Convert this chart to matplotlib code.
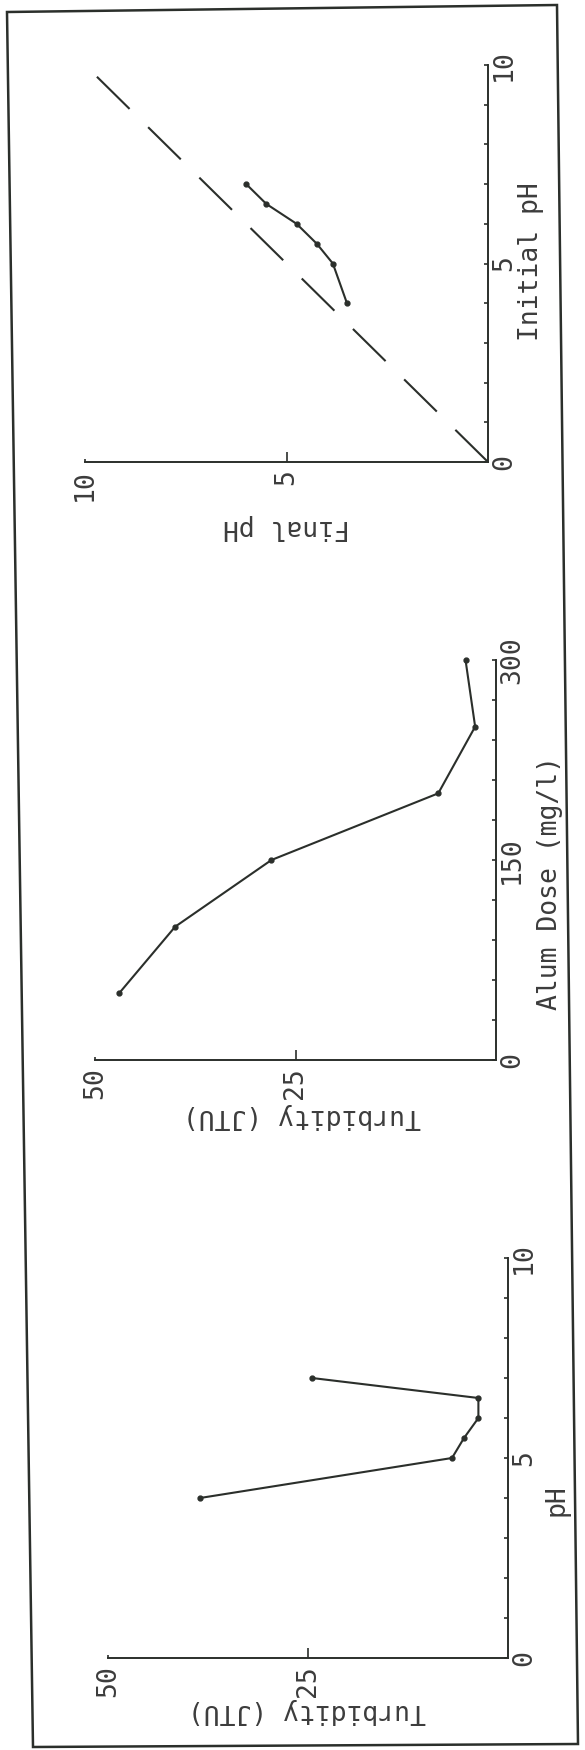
import matplotlib
matplotlib.use("Agg")
import matplotlib.pyplot as plt
from matplotlib.patches import Polygon

# pH series (left panel, drawn at the bottom of the rotated page)
ph_values = [4.0, 5.0, 5.5, 6.0, 6.5, 7.0]
ph_turbidity = [38.5, 7.0, 5.5, 3.7, 3.7, 24.5]

# alum dose series (middle panel)
alum_dose = [50, 100, 150, 200, 250, 300]
alum_turbidity = [47.0, 40.0, 28.0, 7.2, 2.6, 3.8]

# initial vs final pH (right panel, top of page)
initial_ph = [4.0, 5.0, 5.5, 6.0, 6.5, 7.0]
final_ph = [3.5, 3.85, 4.25, 4.75, 5.5, 6.0]
unity_line = [0, 10]

W, H = 585, 1750
INK = "#2b2f2b"
plt.rcParams["font.family"] = ["DejaVu Sans Mono", "DejaVu Sans"]
plt.rcParams["text.color"] = "#3c3c3c"

fig = plt.figure(figsize=(W / 100, H / 100), dpi=100)
fig.patch.set_facecolor("white")


def add_panel(left, right, top, bottom):
    """Axes from pixel edges (y measured from the top of the page)."""
    return fig.add_axes([left / W, 1 - bottom / H, (right - left) / W, (bottom - top) / H])


def style_panel(ax, h_max, h_ticks, h_labels, v_max, v_major, v_minor):
    # page is rotated: horizontal axis grows to the left, vertical grows up
    ax.set_xlim(h_max, 0)
    ax.set_ylim(0, v_max)
    ax.patch.set_alpha(0)
    for side in ("top", "left"):
        ax.spines[side].set_visible(False)
    for side in ("bottom", "right"):
        ax.spines[side].set_linewidth(1.4)
        ax.spines[side].set_color(INK)

    ax.yaxis.tick_right()
    ax.set_yticks(v_major)
    ax.set_yticks(v_minor, minor=True)
    ax.tick_params(axis="y", which="both", direction="in", length=3, width=1.2,
                   color=INK, labelrotation=90, labelsize=19, pad=2,
                   labelcolor="#3c3c3c")
    for lab in ax.get_yticklabels():
        lab.set_va("center")

    ax.set_xticks(h_ticks, h_labels)
    ax.tick_params(axis="x", direction="in", length=7, width=1.2, color=INK,
                   labelrotation=90, labelsize=19, pad=5, labelcolor="#3c3c3c")
    ax.xaxis.get_major_ticks()[-1].tick1line.set_markersize(2)


line_kw = dict(color=INK, lw=1.5, marker="o", ms=3.5, clip_on=False)

# panel 1: turbidity vs pH
ax1 = add_panel(108, 508, 1258, 1658)
style_panel(ax1, 50, [25, 50], ["25", "50"], 10, [0, 5, 10], range(11))
ax1.plot(ph_turbidity, ph_values, **line_kw)
ax1.text(1.1225, 0.395, "pH", rotation=90, ha="center", va="center",
         fontsize=19, transform=ax1.transAxes)
ax1.text(0.4975, -0.1325, "Turbidity (JTU)", rotation=180, ha="center", va="center",
         fontsize=19, transform=ax1.transAxes)

# panel 2: turbidity vs alum dose
ax2 = add_panel(95, 496, 660, 1060)
style_panel(ax2, 50, [25, 50], ["25", "50"], 300, [0, 150, 300], range(0, 301, 30))
ax2.plot(alum_turbidity, alum_dose, **line_kw)
ax2.text(1.135, 0.4425, "Alum Dose (mg/l)", rotation=90, ha="center", va="center",
         fontsize=19, transform=ax2.transAxes)
ax2.text(0.516, -0.14, "Turbidity (JTU)", rotation=180, ha="center", va="center",
         fontsize=19, transform=ax2.transAxes)

# panel 3: final pH vs initial pH with 1:1 line
ax3 = add_panel(85, 488, 65, 462)
style_panel(ax3, 10, [5, 10], ["5", "10"], 10, [0, 5, 10], range(11))
ax3.plot(unity_line, unity_line, color=INK, lw=1.5, dashes=(22, 12.5), clip_on=False)
ax3.plot(final_ph, initial_ph, **line_kw)
ax3.text(1.107, 0.504, "Initial pH", rotation=90, ha="center", va="center",
         fontsize=19, transform=ax3.transAxes)
ax3.text(0.501, -0.164, "Final pH", rotation=180, ha="center", va="center",
         fontsize=19, transform=ax3.transAxes)

# slightly skewed border of the scanned page
corners = [(7, 12), (557, 5), (578, 1744), (33, 1747)]
fig.add_artist(Polygon([(x / W, 1 - y / H) for x, y in corners], closed=True,
                       fill=False, edgecolor=INK, lw=1.8, transform=fig.transFigure))

fig.savefig("out.png", dpi=100, facecolor="white")
